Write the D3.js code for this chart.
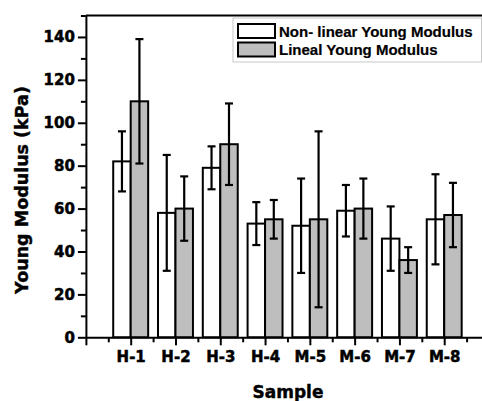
<!DOCTYPE html>
<html>
<head>
<meta charset="utf-8">
<script src="https://cdn.jsdelivr.net/npm/d3@7/dist/d3.min.js"></script>
<style>
  html, body { margin: 0; padding: 0; background: #fff; overflow: hidden; }
  svg { display: block; overflow: hidden; }
</style>
</head>
<body>
<svg id="chart" width="482" height="401"></svg>
<script>
// ---- data ----
const categories = ["H-1", "H-2", "H-3", "H-4", "M-5", "M-6", "M-7", "M-8"];
const nonLinear = [82, 58, 79, 53, 52, 59, 46, 55];
const nonLinearErr = [14, 27, 10, 10, 22, 12, 15, 21];
const lineal = [110, 60, 90, 55, 55, 60, 36, 57];
const linealErr = [29, 15, 19, 9, 41, 14, 6, 15];
const seriesNames = ["Non- linear Young Modulus", "Lineal Young Modulus"];
const yTicks = [0, 20, 40, 60, 80, 100, 120, 140];
const yMinorTicks = [10, 30, 50, 70, 90, 110, 130, 150];

// ---- layout ----
const svg = d3.select("#chart");
const x = d3.scaleLinear().domain([0, 9]).range([85.9, 489]);
const y = d3.scaleLinear().domain([0, 150]).range([337.3, 15.5]);
const barW = 0.39; // in category units
const fills = ["#ffffff", "#bebebe"];
const tickFont = "'DejaVu Sans', sans-serif";

// top frame line (right edge falls outside the picture)
svg.append("line")
  .attr("x1", x(0)).attr("x2", 482).attr("y1", y(150)).attr("y2", y(150))
  .attr("stroke", "#000").attr("stroke-width", 2);

// bars
const series = [
  { vals: nonLinear, errs: nonLinearErr, off: -barW, fill: fills[0] },
  { vals: lineal, errs: linealErr, off: 0, fill: fills[1] }
];
series.forEach(s => {
  const g = svg.append("g");
  g.selectAll("rect").data(s.vals).join("rect")
    .attr("x", (d, i) => x(i + 1 + s.off))
    .attr("y", d => y(d))
    .attr("width", x(barW) - x(0))
    .attr("height", d => y(0) - y(d))
    .attr("fill", s.fill)
    .attr("stroke", "#000").attr("stroke-width", 2);
});

// error bars
series.forEach(s => {
  const g = svg.append("g").attr("stroke", "#000").attr("stroke-width", 2.2);
  s.vals.forEach((v, i) => {
    const cx = x(i + 1 + s.off + barW / 2);
    const hi = y(v + s.errs[i]), lo = y(v - s.errs[i]);
    g.append("line").attr("x1", cx).attr("x2", cx).attr("y1", hi).attr("y2", lo);
    g.append("line").attr("x1", cx - 4).attr("x2", cx + 4).attr("y1", hi).attr("y2", hi);
    g.append("line").attr("x1", cx - 4).attr("x2", cx + 4).attr("y1", lo).attr("y2", lo);
  });
});

// y axis
svg.append("g").attr("transform", `translate(${x(0)},0)`)
  .call(d3.axisLeft(y).tickValues(yTicks).tickSize(8).tickPadding(3).tickSizeOuter(0));
svg.append("g").attr("transform", `translate(${x(0)},0)`)
  .call(d3.axisLeft(y).tickValues(yMinorTicks).tickSize(5).tickFormat("").tickSizeOuter(0))
  .select(".domain").remove();

// x axis
const xMajor = d3.range(0, 9);
const xMinor = d3.range(0.5, 9, 1);
svg.append("g").attr("transform", `translate(0,${y(0)})`)
  .call(d3.axisBottom(x).tickValues(xMajor).tickSize(8).tickPadding(6).tickSizeOuter(0)
    .tickFormat(d => d >= 1 ? categories[d - 1] : ""));
svg.append("g").attr("transform", `translate(0,${y(0)})`)
  .call(d3.axisBottom(x).tickValues(xMinor).tickSize(5).tickFormat("").tickSizeOuter(0))
  .select(".domain").remove();

svg.selectAll(".tick line").attr("stroke-width", 2);
svg.selectAll(".domain").attr("stroke-width", 2);
svg.selectAll(".tick text")
  .attr("font-family", tickFont).attr("font-weight", "bold")
  .attr("font-size", 15).attr("fill", "#000")
  .attr("stroke", "#000").attr("stroke-width", 0.5);

// axis titles
svg.append("text")
  .attr("transform", "translate(28,190) rotate(-90)")
  .attr("text-anchor", "middle")
  .attr("font-family", tickFont).attr("font-weight", "bold").attr("font-size", 17.5)
  .attr("stroke", "#000").attr("stroke-width", 0.4)
  .text("Young Modulus (kPa)");
svg.append("text")
  .attr("x", 288).attr("y", 397.5)
  .attr("text-anchor", "middle")
  .attr("font-family", tickFont).attr("font-weight", "bold").attr("font-size", 17)
  .attr("stroke", "#000").attr("stroke-width", 0.4)
  .text("Sample");

// legend
const leg = svg.append("g");
leg.append("rect").attr("x", 233).attr("y", 18).attr("width", 248.5).attr("height", 44)
  .attr("fill", "#fff").attr("stroke", "#c8c8c8").attr("stroke-width", 1);
seriesNames.forEach((name, i) => {
  leg.append("rect").attr("x", 238).attr("y", 24 + i * 18.5).attr("width", 37).attr("height", 14)
    .attr("fill", fills[i]).attr("stroke", "#000").attr("stroke-width", 2);
  leg.append("text").attr("x", 279).attr("y", 36.5 + i * 18.5)
    .attr("font-family", "'Liberation Sans', Arial, sans-serif").attr("font-weight", "bold")
    .attr("font-size", 15).attr("stroke", "#000").attr("stroke-width", 0.2).text(name);
});
</script>
</body>
</html>
